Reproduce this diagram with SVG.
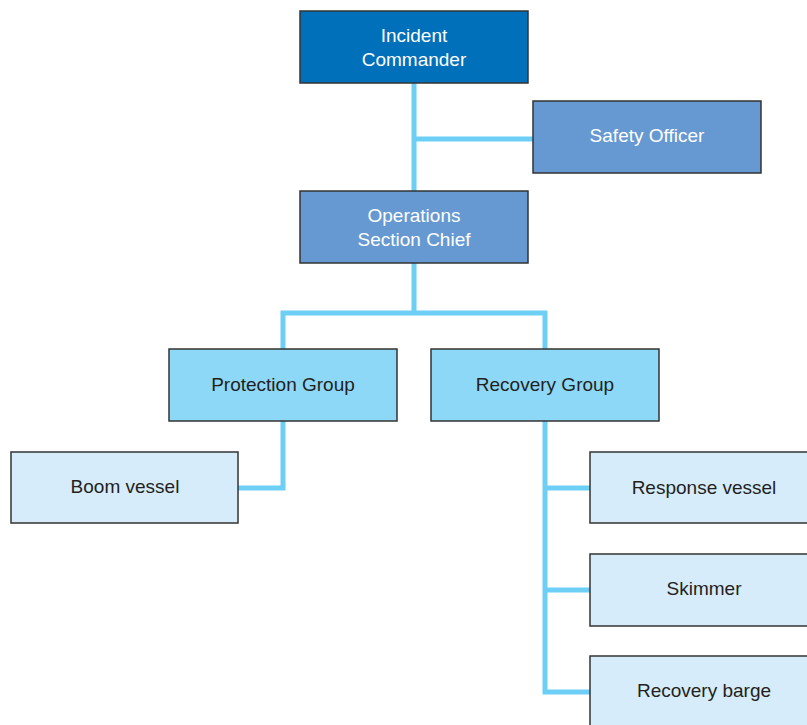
<svg xmlns="http://www.w3.org/2000/svg" width="807" height="725" viewBox="0 0 807 725">
<style>
.box{stroke:#333;stroke-width:1.5}
.l1{fill:#0070BA}.l2{fill:#6699D1}.l3{fill:#8ED8F7}.l4{fill:#D6ECFA}
.t{font-family:"Liberation Sans",Arial,sans-serif;font-size:19px;text-anchor:middle}
.w{fill:#fff}.d{fill:#231F20}
.c{fill:none;stroke:#6DCFF6;stroke-width:5}
</style>
<rect width="807" height="725" fill="#fff"/>
<g id="connectors">
<path class="c" d="M414 83V191M414 139H533M414 263V313M283 349V313H545V349M283 421V488H238M545 421V692H590M545 488H590M545 590H590"/>
</g>
<g id="incident-commander"><rect class="box l1" x="300" y="11" width="228" height="72"/><text class="t w" x="414" y="42">Incident</text><text class="t w" x="414" y="66">Commander</text></g>
<g id="safety-officer"><rect class="box l2" x="533" y="101" width="228" height="72"/><text class="t w" x="647" y="142">Safety Officer</text></g>
<g id="operations-section-chief"><rect class="box l2" x="300" y="191" width="228" height="72"/><text class="t w" x="414" y="222">Operations</text><text class="t w" x="414" y="246">Section Chief</text></g>
<g id="protection-group"><rect class="box l3" x="169" y="349" width="228" height="72"/><text class="t d" x="283" y="391">Protection Group</text></g>
<g id="recovery-group"><rect class="box l3" x="431" y="349" width="228" height="72"/><text class="t d" x="545" y="391">Recovery Group</text></g>
<g id="boom-vessel"><rect class="box l4" x="11" y="452" width="227" height="71"/><text class="t d" x="125" y="493">Boom vessel</text></g>
<g id="response-vessel"><rect class="box l4" x="590" y="452" width="228" height="71"/><text class="t d" x="704" y="494">Response vessel</text></g>
<g id="skimmer"><rect class="box l4" x="590" y="554" width="228" height="72"/><text class="t d" x="704" y="595">Skimmer</text></g>
<g id="recovery-barge"><rect class="box l4" x="590" y="656" width="228" height="72"/><text class="t d" x="704" y="697">Recovery barge</text></g>
</svg>
